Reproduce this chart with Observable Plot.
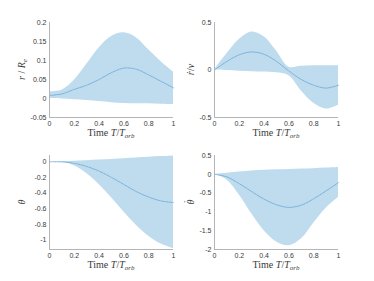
<!DOCTYPE html>
<html>
<head>
<meta charset="utf-8">
<script src="https://cdn.jsdelivr.net/npm/d3@7"></script>
<script src="https://cdn.jsdelivr.net/npm/@observablehq/plot@0.6"></script>
<style>
  body { margin: 0; background: #fff; }
  #wrap { position: relative; width: 374px; height: 281px; background: #fff; overflow: hidden; }
  .panel { position: absolute; }
</style>
</head>
<body>
<div id="wrap"></div>
<script>
// Time grid (T / T_orb)
const tGrid = [0, 0.1, 0.2, 0.3, 0.4, 0.5, 0.6, 0.7, 0.8, 0.9, 1];
const xTicks = [0, 0.2, 0.4, 0.6, 0.8, 1];

// r / R_e
const rMean = [0.008, 0.012, 0.024, 0.035, 0.050, 0.068, 0.080, 0.077, 0.062, 0.045, 0.028];
const rHi   = [0.018, 0.022, 0.048, 0.090, 0.133, 0.163, 0.173, 0.160, 0.128, 0.097, 0.070];
const rLo   = [0.000, -0.001, -0.003, -0.005, -0.008, -0.011, -0.013, -0.014, -0.014, -0.015, -0.016];
const rTicks = [-0.05, 0, 0.05, 0.1, 0.15, 0.2];
const rDomain = [-0.05, 0.2];

// rdot / v
const rdMean = [0, 0.09, 0.16, 0.19, 0.165, 0.09, -0.01, -0.10, -0.16, -0.19, -0.16];
const rdHi   = [0, 0.17, 0.32, 0.40, 0.35, 0.20, 0.03, 0.04, 0.045, 0.045, 0.045];
const rdLo   = [0, -0.005, -0.012, -0.018, -0.022, -0.03, -0.06, -0.22, -0.35, -0.41, -0.37];
const rdTicks = [-0.5, 0, 0.5];
const rdDomain = [-0.5, 0.5];

// theta
const thMean = [0, -0.002, -0.02, -0.06, -0.12, -0.20, -0.29, -0.38, -0.45, -0.50, -0.52];
const thHi   = [0, 0.002, 0.006, 0.013, 0.021, 0.030, 0.039, 0.048, 0.057, 0.066, 0.075];
const thLo   = [0, -0.005, -0.05, -0.15, -0.29, -0.46, -0.64, -0.81, -0.95, -1.05, -1.11];
const thTicks = [-1, -0.8, -0.6, -0.4, -0.2, 0];
const thDomain = [-1.12, 0.08];

// theta dot
const tdMean = [0, -0.07, -0.25, -0.46, -0.66, -0.81, -0.88, -0.82, -0.65, -0.44, -0.22];
const tdHi   = [0, 0.03, 0.06, 0.085, 0.105, 0.12, 0.13, 0.14, 0.15, 0.165, 0.18];
const tdLo   = [0, -0.15, -0.55, -1.05, -1.50, -1.80, -1.90, -1.72, -1.30, -0.90, -0.62];
const tdTicks = [-2, -1.5, -1, -0.5, 0, 0.5];
const tdDomain = [-2, 0.5];

const fillColor = "#bfdcee";
const lineColor = "#5d9fd6";
const axisColor = "#b5b5b5";
const serif = "'Liberation Serif', 'Times New Roman', serif";

function addText(sel, parts) {
  for (const p of parts) {
    const ts = sel.append("tspan").text(p.t);
    if (p.i) ts.attr("font-style", "italic");
    if (p.sub) ts.attr("font-size", "70%").attr("dy", 2);
    if (p.dx != null) ts.attr("dx", p.dx);
    if (p.dy != null) ts.attr("dy", p.dy);
  }
}

function panel(o) {
  const rows = tGrid.map((t, i) => ({t, m: o.mean[i], lo: o.lo[i], hi: o.hi[i]}));
  const chart = Plot.plot({
    width: o.w, height: o.h,
    marginLeft: o.ml, marginRight: o.mr, marginTop: o.mt, marginBottom: o.mb,
    style: {fontFamily: "'Liberation Sans', Arial, sans-serif", fontSize: "7px", color: "#3a3a3a", background: "transparent"},
    x: {domain: [0, 1], ticks: xTicks, tickFormat: d => String(d), tickSize: 0, tickPadding: 4, label: null},
    y: {domain: o.domain, ticks: o.ticks, tickFormat: d => String(d), tickSize: 0, tickPadding: 3, label: null},
    marks: [
      Plot.areaY(rows, {x: "t", y1: "lo", y2: "hi", fill: fillColor, curve: "catmull-rom"}),
      Plot.line(rows, {x: "t", y: "m", stroke: lineColor, strokeWidth: 0.7, strokeDasharray: "3,1", curve: "catmull-rom"}),
      Plot.ruleX([0], {stroke: axisColor}),
      Plot.ruleY([o.domain[0]], {stroke: axisColor})
    ]
  });
  const svg = d3.select(chart);
  const cx = (o.ml + (o.w - o.mr)) / 2;
  const xl = svg.append("text")
    .attr("x", cx).attr("y", o.h - o.mb + 19)
    .attr("text-anchor", "middle")
    .attr("font-family", serif).attr("font-size", 10).attr("fill", "#3a3a3a");
  addText(xl, [{t: "Time "}, {t: "T", i: true}, {t: "/"}, {t: "T", i: true}, {t: "orb", i: true, sub: true}]);
  const cy = (o.mt + (o.h - o.mb)) / 2;
  const yl = svg.append("text")
    .attr("transform", `translate(${o.ylx},${cy}) rotate(-90)`)
    .attr("text-anchor", "middle")
    .attr("font-family", serif).attr("font-size", 10).attr("fill", "#3a3a3a");
  addText(yl, o.ylabel);
  const div = document.createElement("div");
  div.className = "panel";
  div.style.left = o.left + "px";
  div.style.top = o.top + "px";
  div.appendChild(chart);
  document.getElementById("wrap").appendChild(div);
}

panel({left: 0, top: 0, w: 187, h: 140, ml: 49, mr: 14, mt: 22, mb: 23, ylx: 25,
  mean: rMean, lo: rLo, hi: rHi, domain: rDomain, ticks: rTicks,
  ylabel: [{t: "r", i: true}, {t: " / "}, {t: "R", i: true}, {t: "e", i: true, sub: true}]});
panel({left: 178, top: 0, w: 196, h: 140, ml: 36, mr: 36, mt: 22, mb: 23, ylx: 16,
  mean: rdMean, lo: rdLo, hi: rdHi, domain: rdDomain, ticks: rdTicks,
  ylabel: [{t: "r", i: true}, {t: "\u02D9", dx: -3}, {t: "/", dx: 0}, {t: "v", i: true}]});
panel({left: 0, top: 140, w: 187, h: 141, ml: 49, mr: 14, mt: 15, mb: 32, ylx: 25,
  mean: thMean, lo: thLo, hi: thHi, domain: thDomain, ticks: thTicks,
  ylabel: [{t: "\u03B8", i: true}]});
panel({left: 178, top: 140, w: 196, h: 141, ml: 36, mr: 36, mt: 15, mb: 32, ylx: 16,
  mean: tdMean, lo: tdLo, hi: tdHi, domain: tdDomain, ticks: tdTicks,
  ylabel: [{t: "\u03B8", i: true}, {t: "\u02D9", dx: -4, dy: -3}]});
</script>
</body>
</html>
